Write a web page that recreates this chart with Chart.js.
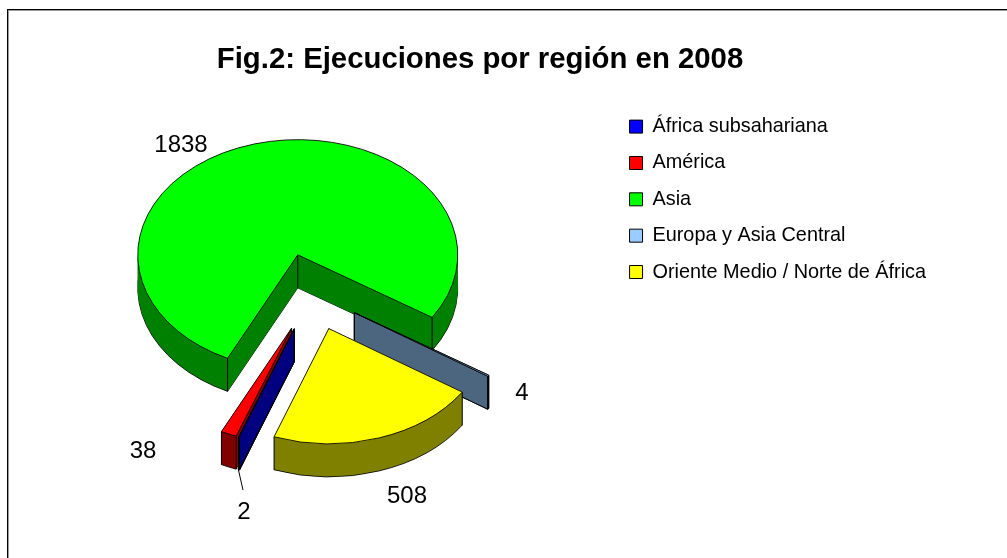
<!DOCTYPE html>
<html>
<head>
<meta charset="utf-8">
<title>Fig.2</title>
<script src="https://cdn.jsdelivr.net/npm/chart.js@4"></script>
<style>
    html, body { margin: 0; padding: 0; background: #fff; overflow: hidden; }
    #frame { position: absolute; left: 7px; top: 9px; right: 0; bottom: 0; border-left: 1px solid #000; border-top: 1px solid #000; box-shadow: inset 1px 1px 0 #999; }
    #chart { position: absolute; left: 0; top: 0; }
</style>
</head>
<body>
<div id="frame"></div>
<canvas id="chart" width="1007" height="558"></canvas>
<script>
var regions = ["África subsahariana", "América", "Asia", "Europa y Asia Central", "Oriente Medio / Norte de África"];
var executions = [2, 38, 1838, 4, 508];
var topColors = ["#0000FF", "#FF0000", "#00FF00", "#99CCFF", "#FFFF00"];
var wallColors = ["#000080", "#800000", "#008000", "#4C6680", "#808000"];
var explode = [53, 53, 55, 50, 52];

// fake 3D: the pie is squashed, each slice pulled out and stacked
var pieX = 312.5;
var pieY = 293;
var tilt = 0.72;
var depth = 33;
var drawOrder = [2, 3, 1, 0, 4];
var labelSpots = [[244, 512], [143, 451], [181, 145], [522, 393], [407, 496]];

function apex(arc, i) {
    var half = (arc.startAngle + arc.endAngle) / 2;
    return [pieX + Math.cos(half) * explode[i], pieY + Math.sin(half) * explode[i] * tilt];
}

function shifted(ctx, arc, i, y, fn) {
    var a = apex(arc, i);
    ctx.save();
    ctx.translate(a[0], a[1] + y);
    ctx.scale(1, tilt);
    ctx.translate(-arc.x, -arc.y);
    fn();
    ctx.restore();
}

function drawWith(ctx, arc, over) {
    var saved = arc.options;
    arc.options = Object.assign(Object.create(saved), over);
    arc.draw(ctx);
    arc.options = saved;
}

function rim(arc, i, angle) {
    var a = apex(arc, i);
    return [a[0] + Math.cos(angle) * arc.outerRadius, a[1] + Math.sin(angle) * arc.outerRadius * tilt];
}

// flat side wall between the apex and one end of the rim
function sideWall(ctx, arc, i, angle, outline) {
    var a = apex(arc, i);
    var p = rim(arc, i, angle);
    ctx.beginPath();
    ctx.moveTo(a[0], a[1]);
    ctx.lineTo(p[0], p[1]);
    ctx.lineTo(p[0], p[1] + depth);
    ctx.lineTo(a[0], a[1] + depth);
    ctx.closePath();
    ctx.fillStyle = wallColors[i];
    ctx.fill();
    ctx.strokeStyle = "#000";
    ctx.lineWidth = 1;
    if (outline) {
        ctx.stroke();
    }
}

var pie3d = {
    id: "pie3d",
    beforeDatasetDraw: function () {
        return false;
    },
    afterDatasetsDraw: function (chart) {
        var ctx = chart.ctx;
        var arcs = chart.getDatasetMeta(0).data;

        drawOrder.forEach(function (i) {
            var arc = arcs[i];
            var thin = arc.endAngle - arc.startAngle < 0.02;
            shifted(ctx, arc, i, depth, function () {
                drawWith(ctx, arc, { backgroundColor: wallColors[i], borderColor: "#000", borderWidth: 1 });
            });
            for (var y = depth - 1; y > 0; y--) {
                shifted(ctx, arc, i, y, function () {
                    drawWith(ctx, arc, { backgroundColor: wallColors[i], borderWidth: 0 });
                });
            }
            sideWall(ctx, arc, i, arc.startAngle, thin);
            sideWall(ctx, arc, i, arc.endAngle, thin);
            var a = apex(arc, i);
            [a, rim(arc, i, arc.startAngle), rim(arc, i, arc.endAngle)].forEach(function (p) {
                ctx.beginPath();
                ctx.moveTo(p[0], p[1]);
                ctx.lineTo(p[0], p[1] + depth);
                ctx.stroke();
            });
            shifted(ctx, arc, i, 0, function () {
                arc.draw(ctx);
            });
        });

        // value labels
        ctx.fillStyle = "#000";
        ctx.font = "24px 'Liberation Sans'";
        ctx.textAlign = "center";
        ctx.textBaseline = "middle";
        executions.forEach(function (v, i) {
            ctx.fillText(String(v), labelSpots[i][0], labelSpots[i][1]);
        });
        // leader line for the África label
        ctx.strokeStyle = "#000";
        ctx.lineWidth = 1;
        ctx.beginPath();
        ctx.moveTo(238, 468);
        ctx.lineTo(243, 490);
        ctx.stroke();
    }
};

Chart.defaults.font.family = "'Liberation Sans', Arial, sans-serif";
Chart.defaults.color = "#000";

var myChart = new Chart(document.getElementById("chart"), {
    type: "pie",
    data: {
        labels: regions,
        datasets: [{
            data: executions,
            backgroundColor: topColors,
            borderColor: "#000",
            borderWidth: 1
        }]
    },
    options: {
        responsive: false,
        animation: false,
        rotation: 200,
        radius: 160,
        layout: { padding: { left: 24, right: 71 } },
        plugins: {
            tooltip: { enabled: false },
            title: {
                display: true,
                text: "Fig.2: Ejecuciones por región en 2008",
                font: { size: 29.33, weight: "bold" },
                padding: { top: 42, bottom: 23 }
            },
            legend: {
                position: "right",
                align: "start",
                fullSize: false,
                labels: {
                    boxWidth: 13,
                    boxHeight: 13,
                    padding: 16.5,
                    font: { size: 19.85 }
                }
            }
        }
    },
    plugins: [pie3d]
});
</script>
</body>
</html>
